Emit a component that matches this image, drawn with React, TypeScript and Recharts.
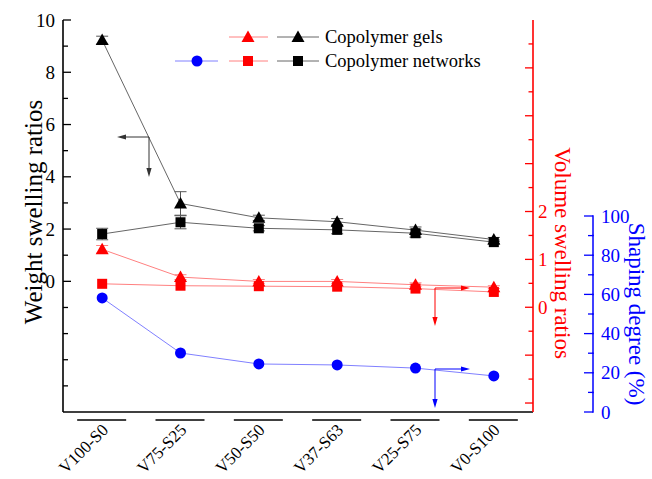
import React from 'react';
import { ComposedChart, Line, XAxis, YAxis, ErrorBar } from 'recharts';

const categories = ['V100-S0', 'V75-S25', 'V50-S50', 'V37-S63', 'V25-S75', 'V0-S100'];
const gelsWeight = [9.23, 2.98, 2.43, 2.28, 1.96, 1.6];
const gelsWeightErr = [0.15, 0.45, 0.1, 0.12, 0.12, 0.08];
const networksWeight = [1.81, 2.26, 2.03, 1.97, 1.84, 1.5];
const networksWeightErr = [0.22, 0.25, 0.1, 0.15, 0.15, 0.08];
const gelsVolume = [1.21, 0.63, 0.54, 0.54, 0.47, 0.42];
const gelsVolumeErr = [0.08, 0.05, 0.04, 0.04, 0.04, 0.03];
const networksVolume = [0.49, 0.45, 0.44, 0.43, 0.39, 0.32];
const shapingDegree = [58.2, 30.1, 24.5, 24.0, 22.4, 18.4];

const leftTicks = [-4, -3, -2, -1, 0, 1, 2, 3, 4, 5, 6, 7, 8, 9, 10];
const leftLabels = [0, 2, 4, 6, 8, 10];
const redTicks = [-2, -1.5, -1, -0.5, 0, 0.5, 1, 1.5, 2, 2.5, 3, 3.5, 4, 4.5, 5, 5.5];
const redLabels = [0, 1, 2];
const blueTicks = [0, 10, 20, 30, 40, 50, 60, 70, 80, 90, 100];
const blueLabels = [0, 20, 40, 60, 80, 100];
const xTicks = [0, 1, 2, 3, 4, 5];

const data = categories.map((c, i) => ({
  idx: i,
  name: c,
  gw: gelsWeight[i],
  gwErr: gelsWeightErr[i],
  nw: networksWeight[i],
  nwErr: networksWeightErr[i],
  gv: gelsVolume[i],
  gvErr: gelsVolumeErr[i],
  nv: networksVolume[i],
  sd: shapingDegree[i],
}));

const W = 652;
const H = 479;
const M = { top: 20, right: 0, bottom: 0, left: 0 };
const X_H = 67;
const PLOT_H = H - M.top - M.bottom - X_H;
const BLUE_DOMAIN: [number, number] = [0, 200];
const BLUE_PX = PLOT_H / (BLUE_DOMAIN[1] - BLUE_DOMAIN[0]);
const FONT = "'Liberation Serif', 'Times New Roman', serif";

const RED = '#ff0000';
const RED_LINE = '#ff8080';
const BLUE = '#0000ff';
const BLUE_LINE = '#8080ff';
const BLACK_LINE = '#666666';

const Triangle = (props: any) => {
  const { cx, cy, fill } = props;
  if (cx == null || cy == null) return null;
  return <polygon points={`${cx},${cy - 6.5} ${cx - 6.5},${cy + 5} ${cx + 6.5},${cy + 5}`} fill={fill} />;
};
const Square = (props: any) => {
  const { cx, cy, fill } = props;
  if (cx == null || cy == null) return null;
  return <rect x={cx - 5} y={cy - 5} width={10} height={10} fill={fill} />;
};
const Circle = (props: any) => {
  const { cx, cy, fill } = props;
  if (cx == null || cy == null) return null;
  return <circle cx={cx} cy={cy} r={5.5} fill={fill} />;
};

const LeftTick = (props: any) => {
  const { x, y, payload } = props;
  const v = payload.value;
  const major = leftLabels.includes(v);
  const len = major ? 8 : 5;
  return (
    <g>
      <line x1={x} x2={x + len} y1={y} y2={y} stroke="#000" strokeWidth={1.3} />
      {major && (
        <text x={x - 8} y={y} dy="0.35em" textAnchor="end" fontSize={19} fontFamily={FONT} fill="#000">
          {v}
        </text>
      )}
    </g>
  );
};

const RedTick = (props: any) => {
  const { x, y, payload } = props;
  const v = payload.value;
  const major = Number.isInteger(v);
  const len = major ? 8 : 4.5;
  return (
    <g>
      <line x1={x} x2={x - len} y1={y} y2={y} stroke={RED} strokeWidth={1.3} />
      {redLabels.includes(v) && (
        <text x={x + 5} y={y} dy="0.35em" textAnchor="start" fontSize={19} fontFamily={FONT} fill={RED}>
          {v}
        </text>
      )}
    </g>
  );
};

const BlueTick = (props: any) => {
  const { x, y, payload } = props;
  const v = payload.value;
  const major = blueLabels.includes(v);
  const len = major ? 9 : 5;
  return (
    <g>
      {v < 100 && <line x1={x} x2={x} y1={y + 0.75} y2={y - 10 * BLUE_PX - 0.75} stroke={BLUE} strokeWidth={1.5} />}
      <line x1={x} x2={x - len} y1={y} y2={y} stroke={BLUE} strokeWidth={1.3} />
      {major && (
        <text x={x + 8} y={y} dy="0.35em" textAnchor="start" fontSize={19} fontFamily={FONT} fill={BLUE}>
          {v}
        </text>
      )}
    </g>
  );
};

const XTick = (props: any) => {
  const { x, y, payload } = props;
  const label = categories[payload.value];
  return (
    <g>
      <line x1={x - 25} x2={x + 24} y1={y + 8} y2={y + 8} stroke="#000" strokeWidth={1.5} />
      <text
        transform={`translate(${x + 7},${y + 19}) rotate(-45)`}
        textAnchor="end"
        fontSize={17}
        fontFamily={FONT}
        fill="#000"
      >
        {label}
      </text>
    </g>
  );
};

const Arrow = ({ x1, y1, x2, y2, color }: any) => {
  const dx = x2 - x1;
  const dy = y2 - y1;
  const L = Math.sqrt(dx * dx + dy * dy);
  const ux = dx / L;
  const uy = dy / L;
  const hl = 9;
  const hw = 2.6;
  const bx = x2 - ux * hl;
  const by = y2 - uy * hl;
  return (
    <g>
      <line x1={x1} y1={y1} x2={bx} y2={by} stroke={color} strokeWidth={1} />
      <polygon
        points={`${x2},${y2} ${bx - uy * hw},${by + ux * hw} ${bx + uy * hw},${by - ux * hw}`}
        fill={color}
      />
    </g>
  );
};

const Overlay = () => (
  <svg width={W} height={H} style={{ position: 'absolute', left: 0, top: 0, pointerEvents: 'none' }}>
    <text
      transform="translate(33,212) rotate(-90)"
      textAnchor="middle"
      dy="0.35em"
      fontSize={25}
      fontFamily={FONT}
      fill="#000"
    >
      Weight swelling ratios
    </text>
    <text
      transform="translate(563,253) rotate(90)"
      textAnchor="middle"
      dy="0.35em"
      fontSize={23}
      fontFamily={FONT}
      fill={RED}
    >
      Volume swelling ratios
    </text>
    <text
      transform="translate(637,314) rotate(90)"
      textAnchor="middle"
      dy="0.35em"
      fontSize={23}
      fontFamily={FONT}
      fill={BLUE}
    >
      Shaping degree (%)
    </text>

    <Arrow x1={149} y1={137} x2={117} y2={137} color="#333" />
    <Arrow x1={149} y1={137} x2={149} y2={177} color="#333" />
    <Arrow x1={435} y1={288} x2={470} y2={288} color={RED} />
    <Arrow x1={435} y1={288} x2={435} y2={326} color={RED} />
    <Arrow x1={435} y1={369} x2={470} y2={369} color={BLUE} />
    <Arrow x1={435} y1={369} x2={435} y2={408} color={BLUE} />

    <g>
      <line x1={229} x2={268} y1={37} y2={37} stroke={RED_LINE} />
      <Triangle cx={248} cy={37} fill={RED} />
      <line x1={277} x2={319} y1={37} y2={37} stroke={BLACK_LINE} />
      <Triangle cx={298} cy={37} fill="#000" />
      <text x={325} y={37} dy="0.35em" fontSize={18.5} fontFamily={FONT} fill="#000">
        Copolymer gels
      </text>
      <line x1={175} x2={218} y1={61} y2={61} stroke={BLUE_LINE} />
      <Circle cx={197} cy={61} fill={BLUE} />
      <line x1={229} x2={268} y1={61} y2={61} stroke={RED_LINE} />
      <Square cx={248} cy={61} fill={RED} />
      <line x1={277} x2={319} y1={61} y2={61} stroke={BLACK_LINE} />
      <Square cx={298} cy={61} fill="#000" />
      <text x={325} y={61} dy="0.35em" fontSize={18.5} fontFamily={FONT} fill="#000">
        Copolymer networks
      </text>
    </g>
  </svg>
);

export default function App() {
  return (
    <div style={{ position: 'absolute', left: 0, top: 0, width: W, height: H, background: '#fff' }}>
      <ComposedChart width={W} height={H} data={data} margin={M}>
        <XAxis
          xAxisId="b"
          dataKey="idx"
          type="number"
          domain={[-0.5, 5.5]}
          ticks={xTicks}
          interval={0}
          tick={<XTick />}
          tickLine={false}
          tickSize={0}
          tickMargin={0}
          axisLine={{ stroke: '#000', strokeWidth: 1.6 }}
          height={X_H}
          allowDataOverflow
        />
        <XAxis
          xAxisId="t"
          orientation="top"
          dataKey="idx"
          type="number"
          domain={[-0.5, 5.5]}
          tick={false}
          tickLine={false}
          axisLine={{ stroke: '#000', strokeWidth: 1.6 }}
          height={0}
          allowDataOverflow
        />
        <YAxis
          yAxisId="l"
          orientation="left"
          type="number"
          domain={[-5, 10]}
          ticks={leftTicks}
          interval={0}
          width={63}
          tick={<LeftTick />}
          tickLine={false}
          tickSize={0}
          tickMargin={0}
          axisLine={{ stroke: '#000', strokeWidth: 1.6 }}
          allowDataOverflow
        />
        <YAxis
          yAxisId="r1"
          orientation="right"
          type="number"
          domain={[-2.1875, 6]}
          ticks={redTicks}
          interval={0}
          width={60}
          tick={<RedTick />}
          tickLine={false}
          tickSize={0}
          tickMargin={0}
          axisLine={{ stroke: RED, strokeWidth: 1.6 }}
          allowDataOverflow
        />
        <YAxis
          yAxisId="r2"
          orientation="right"
          type="number"
          domain={BLUE_DOMAIN}
          ticks={blueTicks}
          interval={0}
          width={59}
          tick={<BlueTick />}
          tickLine={false}
          tickSize={0}
          tickMargin={0}
          axisLine={false}
          allowDataOverflow
        />
        <Line
          xAxisId="t"
          yAxisId="l"
          dataKey="gw"
          stroke="none"
          dot={false}
          activeDot={false}
          isAnimationActive={false}
        />
        <Line
          xAxisId="b"
          yAxisId="r1"
          dataKey="nv"
          stroke={RED_LINE}
          strokeWidth={1}
          dot={<Square fill={RED} />}
          activeDot={false}
          isAnimationActive={false}
        />
        <Line
          xAxisId="b"
          yAxisId="r1"
          dataKey="gv"
          stroke={RED_LINE}
          strokeWidth={1}
          dot={<Triangle fill={RED} />}
          activeDot={false}
          isAnimationActive={false}
        >
          <ErrorBar dataKey="gvErr" width={6} stroke={RED_LINE} strokeWidth={1} direction="y" />
        </Line>
        <Line
          xAxisId="b"
          yAxisId="l"
          dataKey="nw"
          stroke={BLACK_LINE}
          strokeWidth={1}
          dot={<Square fill="#000" />}
          activeDot={false}
          isAnimationActive={false}
        >
          <ErrorBar dataKey="nwErr" width={6} stroke="#555" strokeWidth={1} direction="y" />
        </Line>
        <Line
          xAxisId="b"
          yAxisId="l"
          dataKey="gw"
          stroke={BLACK_LINE}
          strokeWidth={1}
          dot={<Triangle fill="#000" />}
          activeDot={false}
          isAnimationActive={false}
        >
          <ErrorBar dataKey="gwErr" width={6} stroke="#555" strokeWidth={1} direction="y" />
        </Line>
        <Line
          xAxisId="b"
          yAxisId="r2"
          dataKey="sd"
          stroke={BLUE_LINE}
          strokeWidth={1}
          dot={<Circle fill={BLUE} />}
          activeDot={false}
          isAnimationActive={false}
        />
      </ComposedChart>
      <Overlay />
    </div>
  );
}
